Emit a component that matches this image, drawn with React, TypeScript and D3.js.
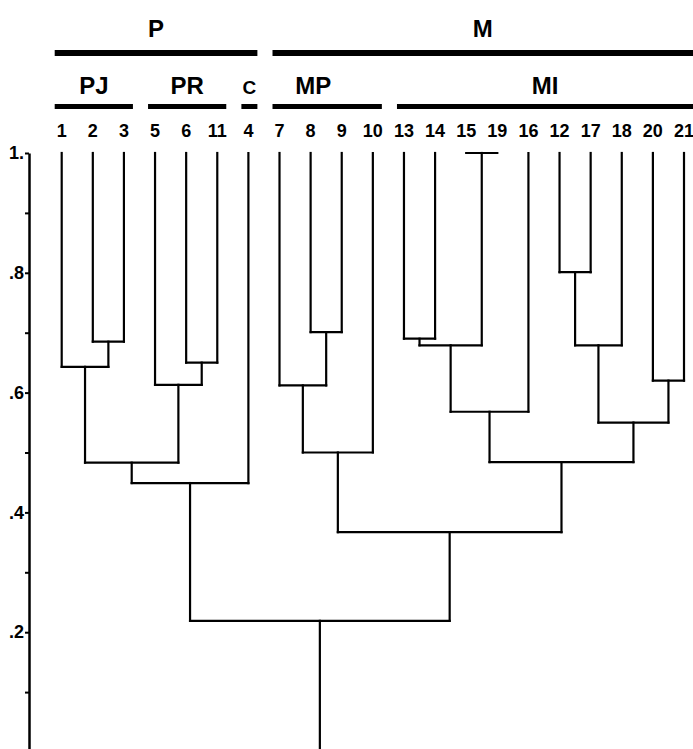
import { useEffect, useMemo, useRef } from 'react';
import * as d3 from 'd3';

// leaf order along the bottom of the header
const leafLabels = ['1', '2', '3', '5', '6', '11', '4', '7', '8', '9', '10', '13', '14', '15', '19', '16', '12', '17', '18', '20', '21'];

// [node id, left child, right child, similarity at which they join]
const merges: [string, string, string, number][] = [
  ['n23', '2', '3', 0.685],
  ['nPJ', '1', 'n23', 0.643],
  ['n611', '6', '11', 0.65],
  ['nPR', '5', 'n611', 0.613],
  ['nPJR', 'nPJ', 'nPR', 0.483],
  ['nP', 'nPJR', '4', 0.449],
  ['n89', '8', '9', 0.701],
  ['n789', '7', 'n89', 0.612],
  ['nMP', 'n789', '10', 0.5],
  ['n1314', '13', '14', 0.69],
  ['n1519', '15', '19', 1.0],
  ['nA', 'n1314', 'n1519', 0.679],
  ['nB', 'nA', '16', 0.568],
  ['n1217', '12', '17', 0.801],
  ['nC', 'n1217', '18', 0.679],
  ['n2021', '20', '21', 0.62],
  ['nD', 'nC', 'n2021', 0.55],
  ['nMI', 'nB', 'nD', 0.484],
  ['nM', 'nMP', 'nMI', 0.367],
  ['root', 'nP', 'nM', 0.219],
];

const leafLevel = 1.0;

// groups: [label, first leaf, last leaf]
const topGroups: [string, string, string][] = [
  ['P', '1', '4'],
  ['M', '7', '21'],
];
const subGroups: [string, string, string][] = [
  ['PJ', '1', '3'],
  ['PR', '5', '11'],
  ['C', '4', '4'],
  ['MP', '7', '10'],
  ['MI', '13', '21'],
];

const axisTicks = d3.range(1, 11).map((i) => i / 10);

const W = 693;
const H = 749;
const font = "'Liberation Sans', Arial, Helvetica, sans-serif";

type TreeNode = { id: string; value: number; children?: TreeNode[] };

const buildTree = (): TreeNode => {
  const nodes = new Map<string, TreeNode>();
  leafLabels.forEach((l) => nodes.set(l, { id: l, value: leafLevel }));
  merges.forEach(([id, a, b, v]) => {
    nodes.set(id, { id, value: v, children: [nodes.get(a)!, nodes.get(b)!] });
  });
  return nodes.get('root')!;
};

const App = () => {
  const axisRef = useRef<SVGGElement>(null);

  const y = d3.scaleLinear().domain([0, 1]).range([752, 153]);

  const root = useMemo(() => {
    const h = d3.hierarchy(buildTree());
    d3.cluster<TreeNode>().separation(() => 1).size([1, 1])(h);
    return h;
  }, []);

  // cluster pads half a step at each end, so map leaf extent onto the leaf columns
  const x = d3
    .scaleLinear()
    .domain(d3.extent(root.leaves(), (l) => l.x!) as [number, number])
    .range([61.7, 684]);

  const leafX = new Map<string, number>();
  root.leaves().forEach((l) => leafX.set(l.data.id, x(l.x!)));

  useEffect(() => {
    const g = d3.select(axisRef.current!);
    const axis = d3
      .axisLeft(y)
      .tickValues(axisTicks)
      .tickSize(4)
      .tickSizeOuter(0)
      .tickPadding(1)
      .tickFormat((v) => {
        const n = Math.round(+v * 10);
        if (n % 2 !== 0) return '';
        if (n === 10) return '1.';
        return '.' + n;
      });
    g.call(axis);
    g.attr('font-family', font).attr('font-size', 18).attr('font-weight', 'bold');
    g.select('.domain').attr('stroke-width', 2.5);
    g.selectAll('.tick line').attr('stroke-width', 2);
  }, []);

  const segments: { x1: number; y1: number; x2: number; y2: number }[] = [];
  root.each((n) => {
    const nx = x(n.x!);
    const ny = y(n.data.value);
    if (n.children) {
      const [a, b] = n.children;
      segments.push({ x1: x(a.x!), y1: ny, x2: x(b.x!), y2: ny });
    }
    const py = n.parent ? y(n.parent.data.value) : H;
    if (py !== ny) segments.push({ x1: nx, y1: ny, x2: nx, y2: py });
  });

  const barExtent = (first: string, last: string) => [
    leafX.get(first)! - 7,
    Math.min(W, leafX.get(last)! + 9),
  ];
  const labelShift: Record<string, number> = { MP: -14 };

  return (
    <svg width={W} height={H} style={{ position: 'absolute', left: 0, top: 0, background: '#fff' }}>
      <g fontFamily={font} fontWeight="bold" fill="#000">
        {topGroups.map(([label, a, b]) => {
          const [x0, x1] = barExtent(a, b);
          return (
            <g key={label}>
              <rect x={x0} y={50} width={x1 - x0} height={6} fill="#000" />
              <text x={(x0 + x1) / 2} y={37} textAnchor="middle" fontSize={24}>{label}</text>
            </g>
          );
        })}
        {subGroups.map(([label, a, b]) => {
          const [x0, x1] = barExtent(a, b);
          return (
            <g key={label}>
              <rect x={x0} y={104} width={x1 - x0} height={5} fill="#000" />
              <text
                x={(x0 + x1) / 2 + (labelShift[label] || 0)}
                y={94}
                textAnchor="middle"
                fontSize={label === 'C' ? 19 : 24}
              >
                {label}
              </text>
            </g>
          );
        })}
        {leafLabels.map((l) => (
          <text key={l} x={leafX.get(l)} y={137} textAnchor="middle" fontSize={18}>{l}</text>
        ))}
      </g>
      <g stroke="#000" strokeWidth={2.2} strokeLinecap="square">
        {segments.map((s, i) => (
          <line key={i} x1={s.x1} y1={s.y1} x2={s.x2} y2={s.y2} />
        ))}
      </g>
      <g ref={axisRef} transform="translate(29,0)" />
    </svg>
  );
};

export default App;
